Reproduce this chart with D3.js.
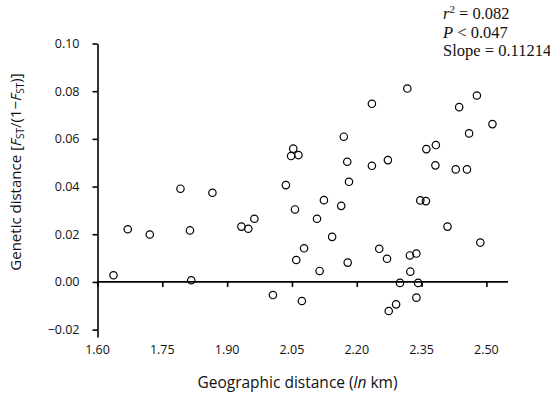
<!DOCTYPE html>
<html>
<head>
<meta charset="utf-8">
<script src="https://cdn.jsdelivr.net/npm/d3@7"></script>
<style>
  body { margin: 0; background: #fff; }
  text { font-family: "Open Sans", "Noto Sans", sans-serif; fill: #111; }
</style>
</head>
<body>
<div class="chart"></div>
<script>
// Geographic distance (ln km) for each population pair
const geoDist = [
  1.637, 1.670, 1.721, 1.792, 1.814, 1.817, 1.866, 1.933, 1.949, 1.963,
  2.006, 2.036, 2.048, 2.053, 2.065, 2.057, 2.060, 2.078, 2.073, 2.108,
  2.114, 2.124, 2.143, 2.164, 2.170, 2.178, 2.182, 2.179, 2.235, 2.235,
  2.252, 2.272, 2.270, 2.274, 2.291, 2.300, 2.317, 2.323, 2.324, 2.338,
  2.338, 2.342, 2.347, 2.360, 2.361, 2.383, 2.382, 2.410, 2.429, 2.437,
  2.455, 2.460, 2.478, 2.486, 2.514
]
// Genetic distance FST/(1-FST)
const genDist = [
  0.0028, 0.0221, 0.0199, 0.0391, 0.0216, 0.0007, 0.0374, 0.0232, 0.0223, 0.0265,
  -0.0055, 0.0406, 0.0528, 0.0559, 0.0532, 0.0304, 0.0092, 0.0141, -0.0080, 0.0265,
  0.0046, 0.0343, 0.0189, 0.0319, 0.0609, 0.0504, 0.0420, 0.0081, 0.0747, 0.0487,
  0.0139, 0.0511, 0.0097, -0.0122, -0.0094, -0.0004, 0.0811, 0.0111, 0.0043, 0.0119,
  -0.0066, -0.0004, 0.0342, 0.0339, 0.0557, 0.0574, 0.0489, 0.0232, 0.0472, 0.0733,
  0.0472, 0.0623, 0.0782, 0.0165, 0.0662
]
const xTicks = [1.60, 1.75, 1.90, 2.05, 2.20, 2.35, 2.50]
const yTicks = [-0.02, 0.00, 0.02, 0.04, 0.06, 0.08, 0.10]
const stats = ['= 0.082', '< 0.047', 'Slope = 0.11214']

const width = 550
const height = 396

const svg = d3.select('.chart').append('svg')
  .attr('width', width)
  .attr('height', height)

const x = d3.scaleLinear().domain([1.6, 2.55]).range([97.5, 508])
const y = d3.scaleLinear().domain([-0.0231, 0.10]).range([337, 43.5])

// y axis
const yAxis = svg.append('g')
  .attr('transform', `translate(${x(1.6)},0)`)
  .call(d3.axisLeft(y).tickValues(yTicks).tickSize(5).tickSizeOuter(0)
    .tickPadding(13).tickFormat(d3.format('.2f')))
yAxis.selectAll('text').style('font-size', '12.5px')

// x axis line sits at y = 0
const xAxis = svg.append('g')
  .attr('transform', `translate(0,${y(0)})`)
  .call(d3.axisBottom(x).tickValues(xTicks).tickSize(5).tickSizeOuter(0).tickFormat(''))
xAxis.select('.domain').attr('d', `M${x(1.6)},0H${x(2.55)}`)

svg.selectAll('.domain, .tick line')
  .attr('stroke', '#000')
  .attr('stroke-width', 1.6)

// x tick labels under the plot
svg.append('g')
  .selectAll('text')
  .data(xTicks)
  .join('text')
  .attr('x', d => x(d))
  .attr('y', 353.5)
  .attr('text-anchor', 'middle')
  .style('font-size', '12.5px')
  .text(d3.format('.2f'))

// points
svg.append('g')
  .selectAll('circle')
  .data(geoDist.map((d, i) => [d, genDist[i]]))
  .join('circle')
  .attr('cx', d => x(d[0]))
  .attr('cy', d => y(d[1]))
  .attr('r', 3.7)
  .attr('fill', 'none')
  .attr('stroke', '#000')
  .attr('stroke-width', 1.2)

// axis titles
const xt = svg.append('text')
  .attr('x', 297.5)
  .attr('y', 388)
  .attr('text-anchor', 'middle')
  .style('font-size', '15.5px')
xt.append('tspan').text('Geographic distance (')
xt.append('tspan').style('font-style', 'italic').text('ln')
xt.append('tspan').text(' km)')

const yt = svg.append('text')
  .attr('transform', 'translate(21,172) rotate(-90)')
  .attr('text-anchor', 'middle')
  .style('font-size', '15px')
yt.append('tspan').text('Genetic distance [')
yt.append('tspan').style('font-style', 'italic').text('F')
yt.append('tspan').attr('dy', 3).style('font-size', '10px').text('ST')
yt.append('tspan').attr('dy', -3).text('/(1\u2212')
yt.append('tspan').style('font-style', 'italic').text('F')
yt.append('tspan').attr('dy', 3).style('font-size', '10px').text('ST')
yt.append('tspan').attr('dy', -3).text(')]')

// regression stats
const note = svg.append('g')
  .style('font-size', '16.5px')
const l1 = note.append('text').attr('x', 443).attr('y', 19)
  .style('font-family', '"Liberation Serif", serif')
l1.append('tspan').style('font-style', 'italic').text('r')
l1.append('tspan').attr('dy', -6).style('font-size', '11px').text('2')
l1.append('tspan').attr('dy', 6).text(' ' + stats[0])
const l2 = note.append('text').attr('x', 443).attr('y', 37.5)
  .style('font-family', '"Liberation Serif", serif')
l2.append('tspan').style('font-style', 'italic').text('P')
l2.append('tspan').text(' ' + stats[1])
note.append('text').attr('x', 443).attr('y', 56)
  .style('font-family', '"Liberation Serif", serif')
  .text(stats[2])
</script>
</body>
</html>
